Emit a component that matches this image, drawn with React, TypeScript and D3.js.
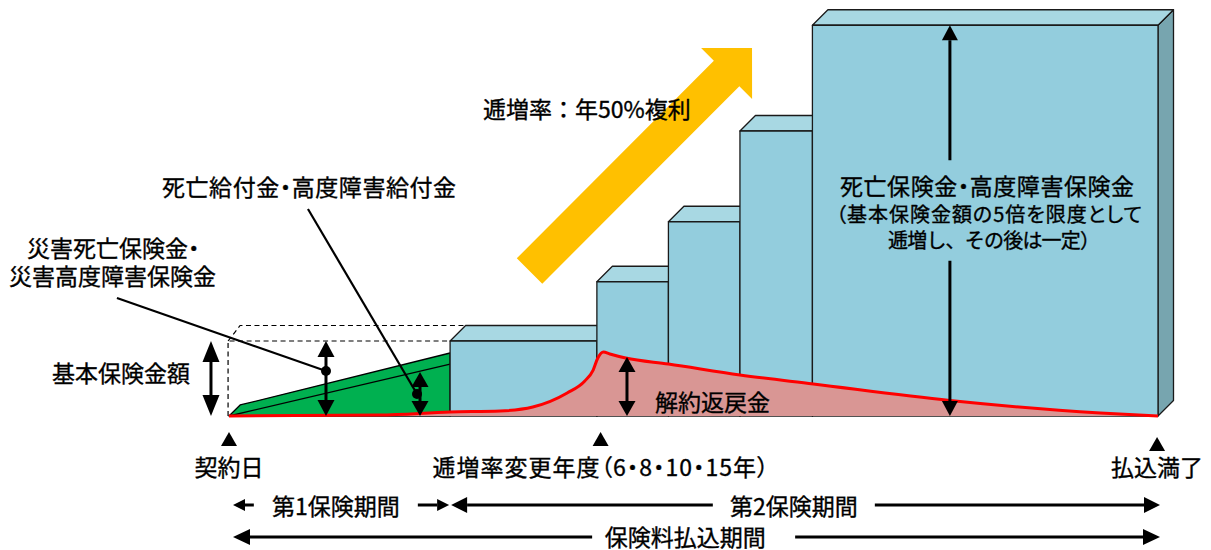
import React from 'react';
import * as d3 from 'd3';

const WIDTH = 1211;
const HEIGHT = 550;

// Timeline: % of premium payment period. Levels: multiples of the basic sum insured.
const stepStarts = [23.8, 39.6, 47.3, 55.0, 62.8];
const stepEnds = [39.6, 47.3, 55.0, 62.8, 100];
const benefitLevels = [1.0, 1.79, 2.59, 3.8, 5.21];

// First insurance period wedge (death benefit / accidental benefit)
const wedgeT = [0, 1.2, 23.8, 23.8];
const wedgeV = [0, 0.147, 0.84, 0];
const wedgeInnerT = [0, 23.8];
const wedgeInnerV = [0, 0.693];

// Surrender value curve
const surrenderT = [0, 16.2, 23.8, 29.2, 32.7, 36.4, 38.3, 39.2, 39.7, 40.3, 41.0, 42.7, 47.3, 55.0, 62.9, 77.6, 93.8, 100];
const surrenderV = [0, 0.013, 0.053, 0.067, 0.12, 0.307, 0.467, 0.613, 0.773, 0.853, 0.827, 0.773, 0.693, 0.547, 0.427, 0.207, 0.04, 0];

// Vertical double arrows
const vArrowT = [-1.94, 10.44, 20.56, 42.84];
const vArrowTop = [1.0, 1.0, 0.587, 0.787];
const vArrowHead = [21, 16, 15, 15];

// Leader lines (label -> dot)
const leaderFromT = [-12.06, 8.5];
const leaderFromV = [1.573, 2.76];
const leaderToT = [10.44, 20.24];
const leaderToV = [0.6, 0.293];

// Big arrow inside last block
const bigArrowT = 77.6;
const bigArrowGap = [3.41, 2.07];

// Growth arrow (tail -> tip)
const growthTail = [32.35, 1.933];
const growthTip = [56.3, 4.907];

// Time markers
const markerT = [0, 40.0, 99.9];
const markerLabels = ['契約日', '逓増率変更年度（6・8・10・15年）', '払込満了'];

// Period rows
const row1From = [0, 23.8];
const row1To = [23.8, 100];
const row1Labels = ['第1保険期間', '第2保険期間'];
const row1LabelT = [11.5, 60.8];
const row2From = [0];
const row2To = [100];
const row2Labels = ['保険料払込期間'];
const row2LabelT = [49.1];

const FONT = "'Noto Sans CJK JP', 'Noto Sans CJK SC', sans-serif";

const x = d3.scaleLinear().domain([0, 100]).range([229, 1158]);
const y = d3.scaleLinear().domain([0, 1]).range([416, 341]);
const D = 15.5;

function vArrow(xp: number, y0: number, y1: number, head: number, hw: number, up = true, down = true, key?: any) {
  const a = up ? y0 + head : y0;
  const b = down ? y1 - head : y1;
  return (
    <g key={key}>
      <line x1={xp} x2={xp} y1={a} y2={b} stroke="#000" strokeWidth={3} />
      {up && <path d={`M${xp},${y0} L${xp - hw / 2},${y0 + head} L${xp + hw / 2},${y0 + head} Z`} fill="#000" />}
      {down && <path d={`M${xp},${y1} L${xp - hw / 2},${y1 - head} L${xp + hw / 2},${y1 - head} Z`} fill="#000" />}
    </g>
  );
}

function hArrow(x0: number, x1: number, yp: number, head: number, hw: number, left: boolean, right: boolean, key?: any) {
  const a = left ? x0 + head : x0;
  const b = right ? x1 - head : x1;
  return (
    <g key={key}>
      <line x1={a} x2={b} y1={yp} y2={yp} stroke="#000" strokeWidth={3} />
      {left && <path d={`M${x0},${yp} L${x0 + head},${yp - hw / 2} L${x0 + head},${yp + hw / 2} Z`} fill="#000" />}
      {right && <path d={`M${x1},${yp} L${x1 - head},${yp - hw / 2} L${x1 - head},${yp + hw / 2} Z`} fill="#000" />}
    </g>
  );
}

export default function App() {
  const base = y(0);

  const blocks = stepStarts.map((s, i) => {
    const x0 = x(s), x1 = x(stepEnds[i]), yt = y(benefitLevels[i]);
    return (
      <g key={i} stroke="#1a1a1a" strokeWidth={1.3} strokeLinejoin="round">
        <path d={`M${x1},${yt} L${x1 + D},${yt - D} L${x1 + D},${base - D} L${x1},${base} Z`} fill="#77A5AF" />
        <path d={`M${x0},${yt} L${x0 + D},${yt - D} L${x1 + D},${yt - D} L${x1},${yt} Z`} fill="#A8D8E3" />
        <rect x={x0} y={yt} width={x1 - x0} height={base - yt} fill="#93CDDD" />
      </g>
    );
  });

  const wedgePts = wedgeT.map((t, i) => [x(t), y(wedgeV[i])] as [number, number]);
  const wedgePath = 'M' + wedgePts.map(p => p.join(',')).join('L') + 'Z';

  const surPts = surrenderT.map((t, i) => [x(t), y(surrenderV[i])] as [number, number]);
  const line = d3.line().curve(d3.curveMonotoneX);
  const area = d3.area<[number, number]>().x(d => d[0]).y0(base).y1(d => d[1]).curve(d3.curveMonotoneX);

  const tx = x(growthTail[0]), ty = y(growthTail[1]);
  const px = x(growthTip[0]), py = y(growthTip[1]);
  const len = Math.hypot(px - tx, py - ty);
  const ux = (px - tx) / len, uy = (py - ty) / len;
  const nx = -uy, ny = ux;
  const sw = 18, hw = 36, hl = 36;
  const bx = px - ux * hl, by = py - uy * hl;
  const g = [
    [tx + nx * sw, ty + ny * sw],
    [bx + nx * sw, by + ny * sw],
    [bx + nx * hw, by + ny * hw],
    [px, py],
    [bx - nx * hw, by - ny * hw],
    [bx - nx * sw, by - ny * sw],
    [tx - nx * sw, ty - ny * sw],
  ];
  const growthPath = 'M' + g.map(p => p.join(',')).join('L') + 'Z';

  const txt = { fontFamily: FONT, fill: '#000', stroke: '#000', strokeWidth: 0.35, fontFeatureSettings: '"palt"' } as any;
  const txtPlain = { fontFamily: FONT, fill: '#000', stroke: '#000', strokeWidth: 0.35 } as any;

  return (
    <svg width={WIDTH} height={HEIGHT} style={{ position: 'absolute', left: 0, top: 0, background: '#fff' }}>
      <g fill="none" stroke="#000" strokeWidth={1.2} strokeDasharray="5,3.5">
        <path d={`M${x(-0.1)},${base} L${x(-0.1)},${y(1)} L${x(23.8)},${y(1)}`} />
        <path d={`M${x(-0.1)},${y(1)} L${x(-0.1) + 12},${y(1) - D} L${x(23.8) + D},${y(1) - D}`} />
      </g>

      <path d={wedgePath} fill="#00B050" stroke="#000" strokeWidth={1.3} strokeLinejoin="round" />
      <line x1={x(wedgeInnerT[0])} y1={y(wedgeInnerV[0])} x2={x(wedgeInnerT[1])} y2={y(wedgeInnerV[1])} stroke="#000" strokeWidth={1.3} />

      <path d={growthPath} fill="#FFC000" />

      {blocks}

      <path d={area(surPts) || ''} fill="#D99694" />
      <path d={line(surPts) || ''} fill="none" stroke="#FF0000" strokeWidth={3} />

      {vArrowT.map((t, i) => vArrow(x(t), y(vArrowTop[i]), base, vArrowHead[i], 17, true, true, 'va' + i))}
      {vArrow(x(bigArrowT), y(benefitLevels[4]), y(bigArrowGap[0]), 15, 16, true, false, 'bu')}
      {vArrow(x(bigArrowT), y(bigArrowGap[1]), base, 15, 16, false, true, 'bd')}

      {leaderFromT.map((t, i) => (
        <g key={'ld' + i}>
          <line x1={x(t)} y1={y(leaderFromV[i])} x2={x(leaderToT[i])} y2={y(leaderToV[i])} stroke="#000" strokeWidth={2.2} />
          <circle cx={x(leaderToT[i])} cy={y(leaderToV[i])} r={5} fill="#000" />
        </g>
      ))}

      <g fontSize={23} dominantBaseline="central">
        <text x={483} y={108} style={txtPlain}>逓増率：年50%複利</text>
        <text x={309} y={186} textAnchor="middle" textLength={294} style={txt}>死亡給付金・高度障害給付金</text>
        <text x={27} y={247} style={txt}>災害死亡保険金・</text>
        <text x={9} y={275} style={txt}>災害高度障害保険金</text>
        <text x={52} y={372} style={txt}>基本保険金額</text>
        <text x={655} y={401} style={txt}>解約返戻金</text>
        <text x={987} y={185} textAnchor="middle" textLength={294} style={txt}>死亡保険金・高度障害保険金</text>
      </g>
      <g fontSize={20} dominantBaseline="central">
        <text x={989} y={213} textAnchor="middle" textLength={306} style={txt}>（基本保険金額の5倍を限度として</text>
        <text x={994} y={239} textAnchor="middle" textLength={212} style={txtPlain}>逓増し、その後は一定）</text>
      </g>

      {markerT.map((t, i) => {
        const cx = x(t);
        const top = i === 2 ? 437 : 432;
        return (
          <g key={'mk' + i}>
            <path d={`M${cx},${top} L${cx - 8},${top + 14} L${cx + 8},${top + 14} Z`} fill="#000" />
            <text x={cx} y={466} textAnchor="middle" dominantBaseline="central" fontSize={23} style={txt}
              textLength={i === 1 ? 336 : undefined}>{markerLabels[i]}</text>
          </g>
        );
      })}

      {row1From.map((f, i) => {
        const cx = x(row1LabelT[i]);
        const half = i === 0 ? 68 : 66;
        const gap = i === 0 ? 14 : 15;
        const head = i === 0 ? 12 : 16;
        const hwid = i === 0 ? 12 : 16;
        const x0 = x(f) + (i === 0 ? 4 : 1);
        const x1 = x(row1To[i]) - (i === 0 ? 1 : -2);
        return (
          <g key={'r1' + i}>
            {hArrow(x0, cx - half - gap, 505, head, hwid, true, false)}
            {hArrow(cx + half + gap, x1, 505, head, hwid, false, true)}
            <text x={cx} y={505} textAnchor="middle" dominantBaseline="central" fontSize={23} style={txt}>{row1Labels[i]}</text>
          </g>
        );
      })}

      {row2From.map((f, i) => {
        const cx = x(row2LabelT[i]);
        return (
          <g key={'r2' + i}>
            {hArrow(x(f) + 4, cx - 93, 537, 17, 16, true, false)}
            {hArrow(cx + 110, x(row2To[i]) + 2, 537, 17, 16, false, true)}
            <text x={cx} y={536} textAnchor="middle" dominantBaseline="central" fontSize={23} style={txt}>{row2Labels[i]}</text>
          </g>
        );
      })}
    </svg>
  );
}
